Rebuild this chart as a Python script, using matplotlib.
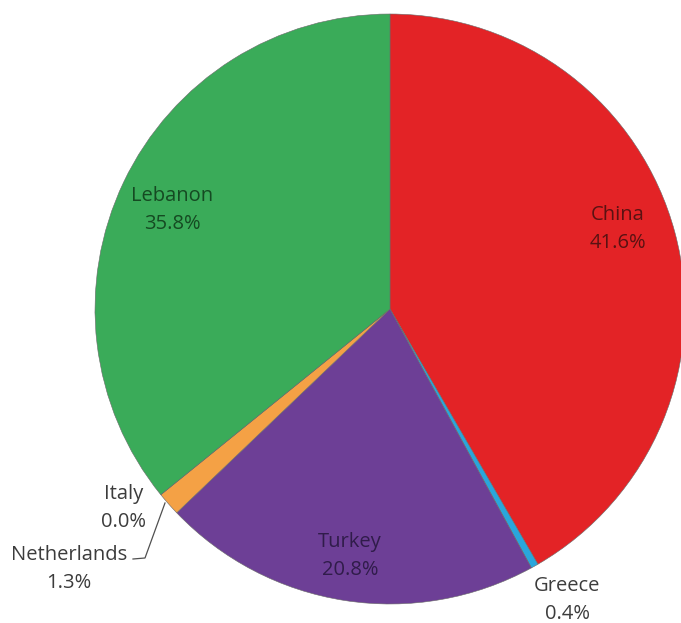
import matplotlib
matplotlib.use('Agg')
import matplotlib.pyplot as plt

# Share by country (%)
countries = ['China', 'Greece', 'Turkey', 'Netherlands', 'Italy', 'Lebanon']
shares = [41.6, 0.4, 20.8, 1.3, 0.0, 35.8]

colors = ['#e32326', '#2aa6dc', '#6d3f96', '#f4a145', '#d9d23a', '#3aab59']
text_colors = ['#5a1212', '#3c3c3c', '#301c4a', '#3c3c3c', '#3c3c3c', '#154a22']

# label centres in pixel coords (x, y from top)
label_pos = {
    'China': (618, 229),
    'Greece': (567, 600),
    'Turkey': (350, 556),
    'Netherlands': (69, 569),
    'Italy': (124, 508),
    'Lebanon': (172, 210),
}

W, H = 681, 623
fig = plt.figure(figsize=(W / 100, H / 100), dpi=100)
ax = fig.add_axes([0, 0, 1, 1])

cx, cy, r = 390, H - 309, 295
wedges, _ = ax.pie(
    shares,
    colors=colors,
    startangle=90,
    counterclock=False,
    center=(cx, cy),
    radius=r,
    frame=True,
    wedgeprops=dict(edgecolor='#6a6a6a', linewidth=0.4),
)
ax.set_xlim(0, W)
ax.set_ylim(0, H)
ax.set_aspect('equal')
ax.axis('off')

for name, v, tc in zip(countries, shares, text_colors):
    x, y = label_pos[name]
    ax.text(x, H - y, f'{name}\n{v:.1f}%', ha='center', va='center',
            fontsize=14.5, color=tc, linespacing=1.55,
            family=['Open Sans', 'DejaVu Sans'])

# leader line for Netherlands
ax.plot([133, 145, 165], [H - 559, H - 558, H - 503], color='#505050', lw=0.9)

fig.savefig('out.png', dpi=100)
